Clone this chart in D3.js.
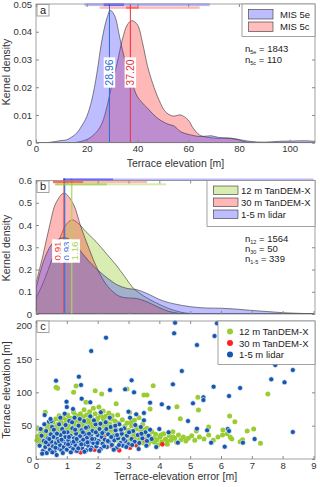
<!DOCTYPE html>
<html>
<head>
<meta charset="utf-8">
<script src="https://d3js.org/d3.v7.min.js"></script>
<style>
body { margin: 0; background: #fff; }
svg { display: block; font-family: 'Liberation Sans', Arial, sans-serif; }
.axis path, .axis line { stroke: #8a8a8a; }
.axis text { fill: #333; font-size: 9.5px; }
.lab { fill: #333; font-size: 10.5px; }
</style>
</head>
<body>
<svg id="fig"></svg>
<script>

// ---- panel a: kernel density of terrace elevation ----
var mis5e = [[0,0],[5,0.0001],[10,0.0008],[12,0.001],[14,0.002],[16,0.0034],[18,0.006],[20,0.0094],[22,0.0154],[24,0.025],
  [26,0.037],[28,0.045],[29.3,0.0477],[31,0.0458],[33,0.038],[35,0.030],[38,0.0214],[40,0.0166],[44,0.0124],[48,0.0088],
  [52,0.0067],[54.5,0.006],[57,0.004],[61,0.0028],[65,0.0022],[69,0.0025],[72,0.0019],[77,0.0016],[81,0.001],[85,0.0004],
  [90,0.0002],[96,0.0005],[101,0.0006],[106,0.0007],[110,0.0005]];
var mis5c = [[0,0],[14,0],[17,0.0003],[19,0.0008],[21,0.0016],[24,0.004],[26,0.007],[28,0.013],[30,0.0214],[32,0.0287],
  [34,0.037],[36,0.0425],[37.8,0.044],[40,0.0425],[42,0.036],[44,0.0275],[46,0.0214],[48.5,0.0154],[51,0.0112],[54,0.0096],
  [57,0.0100],[60,0.0082],[62,0.0052],[64.5,0.0028],[68,0.0019],[72,0.0016],[76,0.0016],[80,0.001],[82,0.0004],[86,0.0001],
  [90,0],[110,0]];
var misMedians = [28.96, 37.20];
// [light start, dark start, dark end, light end]
var misRanges = [[19.1, 26.7, 34.7, 68.5], [25.1, 35.5, 40.6, 64.5]];
var misNames = ['MIS 5e', 'MIS 5c'];
var misN = [['5e', 1843], ['5c', 110]];

// ---- panel b: kernel density of elevation error ----
var tdx12 = [[0,0.07],[0.2,0.13],[0.4,0.2],[0.6,0.28],[0.8,0.35],[0.97,0.40],[1.16,0.423],[1.35,0.41],[1.62,0.37],[1.95,0.325],
  [2.27,0.273],[2.6,0.22],[2.92,0.16],[3.15,0.117],[3.5,0.08],[3.9,0.05],[4.3,0.025],[4.7,0.008],[5.0,0.002],[5.3,0],[9,0]];
var tdx30 = [[0,0.14],[0.22,0.26],[0.43,0.39],[0.65,0.5],[0.91,0.543],[1.19,0.5],[1.46,0.39],[1.73,0.29],[2.0,0.2],[2.33,0.123],
  [2.7,0.08],[3.0,0.072],[3.25,0.07],[3.6,0.055],[3.9,0.035],[4.3,0.012],[4.7,0.002],[5,0],[9,0]];
var lidar = [[0,0.115],[0.16,0.2],[0.32,0.265],[0.54,0.318],[0.8,0.34],[0.97,0.342],[1.19,0.325],[1.46,0.28],[1.73,0.235],
  [2.0,0.198],[2.33,0.16],[2.65,0.13],[2.95,0.115],[3.25,0.11],[3.6,0.092],[4.1,0.06],[4.5,0.045],[5.0,0.033],[5.5,0.027],
  [6.0,0.026],[6.5,0.022],[7.0,0.016],[7.5,0.011],[8.0,0.006],[8.5,0.003],[9,0.001]];
var errMedians = [1.16, 0.91, 0.93];
var errRanges = [[0.62, 0.62, 2.3, 4.22], [0.55, 0.55, 1.53, 3.6], [0.88, 0.88, 2.5, 9.0]];
var errNames = ['12 m TanDEM-X', '30 m TanDEM-X', '1-5 m lidar'];
var errN = [['12', 1564], ['30', 50], ['1-5', 339]];

// ---- panel c: elevation vs error scatter ----
var pts12 = [[0.03,28],[0.06,34],[0.1,22],[0.12,31],[0.15,38],[0.18,26],[0.2,44],[0.24,33],[0.27,24],[0.3,40],[0.33,29],[0.36,47],
  [0.38,35],[0.41,21],[0.44,52],[0.46,38],[0.48,28],[0.5,44],[0.53,33],[0.55,55],[0.58,41],[0.6,26],[0.62,48],[0.64,60],[0.66,36],
  [0.69,30],[0.71,52],[0.73,44],[0.75,65],[0.77,38],[0.8,57],[0.82,28],[0.84,47],[0.86,36],[0.88,62],[0.9,42],[0.92,53],[0.95,31],
  [0.97,46],[0.99,58],[1.01,39],[1.03,66],[1.05,50],[1.07,27],[1.09,44],[1.11,56],[1.13,35],[1.15,61],[1.18,47],[1.2,40],[1.22,70],
  [1.24,52],[1.26,30],[1.28,58],[1.3,45],[1.32,37],[1.34,64],[1.36,50],[1.38,42],[1.4,55],[1.42,33],[1.44,68],[1.46,47],[1.48,39],
  [1.5,60],[1.52,52],[1.54,43],[1.56,74],[1.58,36],[1.6,56],[1.62,48],[1.64,66],[1.66,41],[1.68,29],[1.7,59],[1.72,50],[1.74,71],
  [1.76,44],[1.78,34],[1.8,62],[1.82,53],[1.84,46],[1.86,76],[1.88,39],[1.9,57],[1.92,68],[1.94,30],[1.96,49],[1.98,42],[2.0,61],
  [2.02,54],[2.04,78],[2.06,37],[2.08,47],[2.1,66],[2.12,27],[2.14,52],[2.16,43],[2.18,72],[2.2,58],[2.22,34],[2.24,49],[2.26,64],
  [2.28,40],[2.3,55],[2.32,25],[2.34,46],[2.36,69],[2.38,37],[2.4,52],[2.42,30],[2.44,60],[2.46,43],[2.48,22],[2.5,48],[2.53,36],
  [2.56,57],[2.59,28],[2.62,44],[2.65,66],[2.68,33],[2.71,52],[2.74,24],[2.77,41],[2.8,59],[2.83,30],[2.86,46],[2.89,21],[2.92,37],
  [2.95,54],[2.98,27],[3.01,43],[3.04,70],[3.07,32],[3.1,50],[3.13,25],[3.16,39],[3.19,58],[3.22,29],[3.25,45],[3.28,20],[3.31,36],
  [3.34,62],[3.37,27],[3.4,42],[3.43,33],[3.46,52],[3.49,24],[3.52,38],[3.56,30],[3.6,46],[3.64,22],[3.68,35],[3.72,27],[3.76,41],
  [3.8,31],[3.84,25],[3.88,37],[3.92,29],[3.96,21],[4.02,33],[4.08,26],[4.14,38],[4.2,30],[4.26,22],[4.32,35],[4.38,28],[4.44,41],
  [4.5,31],[4.56,25],[4.62,36],[4.7,29],[4.78,33],[4.86,27],[4.94,31],[5.05,35],[5.15,28],[5.3,33],[5.45,30],[5.6,36],[5.75,28],
  [5.9,33],[6.05,36],[6.2,38],[6.35,30],[0.65,107.5],[0.7,106],[1.3,109.5],[1.22,100],[1.92,102.5],[2.13,97.5],[2.95,105],[3.6,96],
  [3.8,110],[3.5,96],[4.57,78.5],[4.68,60.5],[5.25,92.5],[5.27,73.5],[6.28,64.5],[6.45,56],[6.06,43.5],[6.85,42],[7.06,45],
  [7.52,97.5],[7.28,23.5],[6.62,26],[6.7,29],[6.3,32.5],[5.6,48],[5.2,42],[3.7,75],[2.6,83],[1.62,85],[0.3,70],
  [0.08,45],[0.22,36],[0.4,27],[0.57,38],[0.79,45],[0.94,36],[1.06,60],[1.16,42],[1.27,66],[1.41,48],[1.53,63],[1.63,38],
  [1.73,54],[1.83,40],[1.97,56],[2.07,44],[2.17,62],[2.27,50],[2.37,42],[2.47,65],[2.57,40],[2.67,54],[2.78,34],[2.88,49],
  [2.97,40],[3.08,55],[3.18,35],[3.28,48],[3.38,31],[3.53,44],[3.66,32],[3.86,29],[4.05,36],[4.25,27],[4.45,33]];
var pts30 = [[0.25,13],[0.45,16],[0.6,11],[0.85,13],[1.0,20],[1.25,17],[1.45,10],[1.55,36],[1.7,24],[1.9,14],[2.2,32],[2.45,19],
  [2.7,13],[2.9,26],[3.05,17],[3.25,21],[3.55,28],[4.1,22],[0.75,22],[1.3,12]];
var ptsLidar = [[0.12,20],[0.18,35],[0.22,12],[0.25,27],[0.28,66],[0.3,18],[0.33,42],[0.35,9],[0.38,31],[0.4,22],[0.42,56],[0.45,14],
  [0.48,37],[0.5,26],[0.52,48],[0.55,19],[0.57,33],[0.6,11],[0.62,41],[0.65,24],[0.67,6],[0.7,30],[0.72,16],[0.75,52],[0.78,21],
  [0.8,36],[0.82,13],[0.85,45],[0.88,27],[0.9,18],[0.93,68],[0.95,33],[0.97,23],[1.0,14],[1.02,40],[1.05,28],[1.08,57],[1.1,19],
  [1.12,35],[1.15,24],[1.18,46],[1.2,15],[1.23,31],[1.25,62],[1.28,21],[1.3,38],[1.33,12],[1.35,27],[1.38,50],[1.4,18],[1.43,34],
  [1.45,25],[1.48,43],[1.5,16],[1.53,29],[1.56,57],[1.58,22],[1.6,37],[1.63,13],[1.66,32],[1.68,48],[1.7,20],[1.73,26],[1.76,64],
  [1.78,35],[1.8,17],[1.83,42],[1.86,24],[1.9,30],[1.93,52],[1.96,19],[2.0,36],[2.03,27],[2.06,45],[2.1,15],[2.13,33],[2.16,23],
  [2.2,41],[2.23,29],[2.26,55],[2.3,18],[2.34,37],[2.38,25],[2.42,48],[2.46,21],[2.5,34],[2.54,28],[2.58,43],[2.62,17],[2.66,31],
  [2.7,52],[2.74,24],[2.78,38],[2.82,20],[2.86,46],[2.9,27],[2.95,35],[3.0,22],[3.05,62],[3.1,30],[3.15,42],[3.2,26],[3.25,67],
  [3.3,36],[3.35,24],[3.4,48],[3.45,31],[3.5,58],[3.55,40],[3.6,27],[3.65,35],[3.7,44],[4.0,45],[4.3,40],
  [4.51,204.5],[5.87,203.5],[4.48,188.5],[2.27,182],[5.79,184.5],[5.22,171],[1.79,162],[4.73,132],[8.33,133.5],[7.76,141],
  [7.63,119.5],[8.06,115],[1.39,123.5],[0.65,117.5],[1.46,111],[3.1,118],[4.44,112],[2.89,104.5],[3.18,100],[2.4,103.5],
  [5.76,108.5],[6.62,106.5],[1.48,90.5],[0.99,86],[1.76,85],[4.08,82],[5.09,83.5],[5.43,92.5],[5.43,88.5],[6.26,94.5],[4.3,77],
  [3.7,84.5],[4.93,57],[5.22,45.5],[5.55,43],[6.22,45],[6.26,42],[8.33,40.5],[7.09,30],[6.12,18.5],[6.71,24.5],[4.6,24.5],
  [5.68,24.5],[1.0,78],[0.5,57],[2.1,70],[1.2,75],[3.0,71],[3.5,69],
  [0.15,45],[0.2,8],[0.27,52],[0.32,25],[0.43,30],[0.47,60],[0.53,10],[0.58,44],[0.63,17],[0.68,38],[0.74,27],[0.79,62],
  [0.83,29],[0.87,9],[0.91,40],[0.96,51],[1.04,22],[1.07,33],[1.13,10],[1.17,55],[1.22,26],[1.27,44],[1.32,30],[1.37,16],
  [1.42,60],[1.47,22],[1.52,40],[1.57,11],[1.62,47],[1.67,25],[1.72,38],[1.77,14],[1.82,30],[1.88,58],[1.94,40],[1.99,24],
  [2.05,12],[2.09,53],[2.15,39],[2.21,19],[2.28,45],[2.33,27],[2.39,62],[2.44,33],[2.52,14],[2.57,50],[2.63,36],[2.69,21],
  [2.76,44],[2.84,30],[2.93,18],[3.02,40],[3.12,21],[3.22,51],[3.33,15],[3.42,38],[3.58,20],[3.75,30],[3.9,18]];

var col12 = '#9acd32', col30 = '#ff2020', colLidar = '#1456b0';
var fill5e = '#3333ff', fill5c = '#ff3333';

var svg = d3.select('#fig').attr('width', 320).attr('height', 487);

// scales
var xA = d3.scaleLinear().domain([0, 110]).range([36, 315]);
var yA = d3.scaleLinear().domain([0, 0.05]).range([142.7, 4]);
var xE = d3.scaleLinear().domain([0, 9]).range([36, 313.5]);
var yB = d3.scaleLinear().domain([0, 0.6]).range([314, 180.5]);
var yC = d3.scaleLinear().domain([0, 207]).range([459, 321]);

function axes(g, x, y, xt, yt, yfmt, xlab) {
  var x0 = 36, x1 = 315, yb = y.range()[0], yt0 = y.range()[1];
  g.append('g').attr('class', 'axis').attr('transform', 'translate(0,' + yb + ')')
    .call(d3.axisBottom(x).tickValues(xt).tickSizeInner(-3).tickSizeOuter(0).tickPadding(3)
      .tickFormat(xlab ? d3.format('d') : ''));
  g.append('g').attr('class', 'axis').attr('transform', 'translate(0,' + yt0 + ')')
    .call(d3.axisTop(x).tickValues(xt).tickSizeInner(-3).tickSizeOuter(0).tickFormat(''));
  g.append('g').attr('class', 'axis').attr('transform', 'translate(' + x0 + ',0)')
    .call(d3.axisLeft(y).tickValues(yt).tickSizeInner(-3).tickSizeOuter(0).tickPadding(4).tickFormat(yfmt));
  g.append('g').attr('class', 'axis').attr('transform', 'translate(' + x1 + ',0)')
    .call(d3.axisRight(y).tickValues(yt).tickSizeInner(-3).tickSizeOuter(0).tickFormat(''));
  g.selectAll('.axis .domain').remove();
  g.append('rect').attr('x', x0).attr('y', yt0).attr('width', x1 - x0).attr('height', yb - yt0)
    .attr('fill', 'none').attr('stroke', '#8a8a8a').attr('stroke-width', 0.8);
}

function panelTag(g, letter, y) {
  g.append('rect').attr('x', 37).attr('y', y).attr('width', 12).attr('height', 11.5)
    .attr('fill', '#fff').attr('stroke', '#8a8a8a').attr('stroke-width', 0.8);
  g.append('text').attr('x', 43).attr('y', y + 9).attr('text-anchor', 'middle')
    .attr('font-size', 11).attr('fill', '#222').text(letter);
}

function nText(g, x, y, sub, val) {
  var t = g.append('text').attr('x', x).attr('y', y).attr('font-size', 9.5).attr('fill', '#222');
  t.append('tspan').text('n');
  t.append('tspan').attr('font-size', 5.5).attr('dy', 2).text(sub);
  t.append('tspan').attr('dy', -2).text(' = ' + val);
}

function rangeBar(g, x, r, y, h, col, op) {
  g.append('rect').attr('x', x(r[0])).attr('y', y).attr('width', x(r[3]) - x(r[0])).attr('height', h)
    .attr('fill', col).attr('fill-opacity', op);
  g.append('rect').attr('x', x(r[1])).attr('y', y).attr('width', x(r[2]) - x(r[1])).attr('height', h)
    .attr('fill', col).attr('fill-opacity', op + 0.25);
}

function vLabel(g, x, y, txt, col, fs) {
  var w = txt.length * fs * 0.52 + 3, h = fs + 1;
  g.append('rect').attr('x', x - h / 2).attr('y', y - w / 2).attr('width', h).attr('height', w).attr('fill', '#fff');
  g.append('text').attr('transform', 'translate(' + x + ',' + y + ') rotate(-90)')
    .attr('text-anchor', 'middle').attr('dominant-baseline', 'central')
    .attr('font-size', fs).attr('fill', col).text(txt);
}

// ================= panel a =================
var ga = svg.append('g');
svg.append('clipPath').attr('id', 'clipA').append('rect').attr('x', 36).attr('y', 4).attr('width', 279).attr('height', 139);
var areaA = d3.area().x(function(d) { return xA(d[0]); }).y0(yA(0)).y1(function(d) { return yA(d[1]); })
  .curve(d3.curveCatmullRom);
var pa = ga.append('g').attr('clip-path', 'url(#clipA)');
pa.append('path').datum(mis5c).attr('d', areaA).attr('fill', fill5c).attr('fill-opacity', 0.35)
  .attr('stroke', '#333').attr('stroke-width', 0.6);
pa.append('path').datum(mis5e).attr('d', areaA).attr('fill', fill5e).attr('fill-opacity', 0.32)
  .attr('stroke', '#333').attr('stroke-width', 0.6);
var medColA = ['#2a6cd4', '#e8303a'];
misMedians.forEach(function(m, i) {
  ga.append('line').attr('x1', xA(m)).attr('x2', xA(m)).attr('y1', yA(0)).attr('y2', 4)
    .attr('stroke', medColA[i]).attr('stroke-width', 1);
});
rangeBar(ga, xA, misRanges[0], 3.3, 2.8, fill5e, 0.35);
rangeBar(ga, xA, misRanges[1], 6.5, 2.3, fill5c, 0.35);
misMedians.forEach(function(m, i) { vLabel(ga, xA(m), 72.5, m.toFixed(2), medColA[i], 10.5); });
axes(ga, xA, yA, [0, 20, 40, 60, 80, 100], d3.range(0, 0.051, 0.01),
  function(d) { return d === 0 ? '0' : d3.format('.2f')(d); }, true);
panelTag(ga, 'a', 4.5);
ga.append('text').attr('class', 'lab').attr('x', 175.5).attr('y', 166.5).attr('text-anchor', 'middle')
  .text('Terrace elevation [m]');
ga.append('text').attr('class', 'lab').attr('transform', 'translate(10,72) rotate(-90)')
  .attr('text-anchor', 'middle').text('Kernel density');
// legend a
var la = ga.append('g');
la.append('rect').attr('x', 242).attr('y', 4).attr('width', 73).attr('height', 32.5)
  .attr('fill', '#fff').attr('stroke', '#8a8a8a').attr('stroke-width', 0.8);
[fill5e, fill5c].forEach(function(c, i) {
  la.append('rect').attr('x', 248.5).attr('y', 9.5 + i * 12.5).attr('width', 24.5).attr('height', 9.5)
    .attr('fill', c).attr('fill-opacity', 0.32).attr('stroke', '#333').attr('stroke-width', 0.6);
  la.append('text').attr('x', 280).attr('y', 17.8 + i * 12.5).attr('font-size', 9.5).attr('fill', '#222').text(misNames[i]);
});
misN.forEach(function(n, i) { nText(ga, 245, 51.5 + i * 11, n[0], n[1]); });

// ================= panel b =================
var gb = svg.append('g');
svg.append('clipPath').attr('id', 'clipB').append('rect').attr('x', 36).attr('y', 180.5).attr('width', 279).attr('height', 133.5);
var areaB = d3.area().x(function(d) { return xE(d[0]); }).y0(yB(0)).y1(function(d) { return yB(d[1]); })
  .curve(d3.curveCatmullRom);
var pb = gb.append('g').attr('clip-path', 'url(#clipB)');
[[tdx12, col12, 0.38], [tdx30, fill5c, 0.35], [lidar, fill5e, 0.32]].forEach(function(s) {
  pb.append('path').datum(s[0]).attr('d', areaB).attr('fill', s[1]).attr('fill-opacity', s[2])
    .attr('stroke', '#333').attr('stroke-width', 0.6);
});
var medColB = ['#a8d850', '#ff2a2a', '#3a78d8'];
errMedians.forEach(function(m, i) {
  gb.append('line').attr('x1', xE(m)).attr('x2', xE(m)).attr('y1', yB(0)).attr('y2', 178.5)
    .attr('stroke', medColB[i]).attr('stroke-width', 1.2);
});
rangeBar(gb, xE, errRanges[2], 178.5, 2.3, fill5e, 0.35);
rangeBar(gb, xE, errRanges[1], 180.8, 2.3, fill5c, 0.35);
rangeBar(gb, xE, errRanges[0], 183.3, 2, col12, 0.4);
// median labels side by side: 30 m, lidar, 12 m
vLabel(gb, 57.5, 251, errMedians[1].toFixed(2), medColB[1], 9.8);
vLabel(gb, 66, 251, errMedians[2].toFixed(2), medColB[2], 9.8);
vLabel(gb, 74.5, 251, errMedians[0].toFixed(2), medColB[0], 9.8);
axes(gb, xE, yB, d3.range(0, 10), d3.range(0, 0.61, 0.1),
  function(d) { return d === 0 ? '0' : d3.format('.1f')(d); }, false);
panelTag(gb, 'b', 181);
gb.append('text').attr('class', 'lab').attr('transform', 'translate(10,248) rotate(-90)')
  .attr('text-anchor', 'middle').text('Kernel density');
var lb = gb.append('g');
lb.append('rect').attr('x', 207).attr('y', 180.5).attr('width', 108).attr('height', 46)
  .attr('fill', '#fff').attr('stroke', '#8a8a8a').attr('stroke-width', 0.8);
[[col12, 0.38], [fill5c, 0.35], [fill5e, 0.32]].forEach(function(c, i) {
  lb.append('rect').attr('x', 213.5).attr('y', 186 + i * 12).attr('width', 24.5).attr('height', 8.5)
    .attr('fill', c[0]).attr('fill-opacity', c[1]).attr('stroke', '#333').attr('stroke-width', 0.6);
  lb.append('text').attr('x', 241).attr('y', 193.8 + i * 12).attr('font-size', 9.5).attr('fill', '#222').text(errNames[i]);
});
errN.forEach(function(n, i) { nText(gb, 245, 241.5 + i * 10, n[0], n[1]); });

// ================= panel c =================
var gc = svg.append('g');
var sets = [[pts12, col12, 2.5, 'none'], [pts30, col30, 2.3, 'none'], [ptsLidar, colLidar, 2.5, '#fff']];
sets.forEach(function(s) {
  gc.append('g').selectAll('circle').data(s[0]).enter().append('circle')
    .attr('cx', function(d) { return xE(d[0]); })
    .attr('cy', function(d) { return yC(d[1]); })
    .attr('r', s[2]).attr('fill', s[1])
    .attr('stroke', s[3]).attr('stroke-width', 0.6);
});
axes(gc, xE, yC, d3.range(0, 10), [0, 50, 100, 150, 200], d3.format('d'), true);
panelTag(gc, 'c', 321);
gc.append('text').attr('class', 'lab').attr('x', 175.5).attr('y', 480).attr('text-anchor', 'middle')
  .text('Terrace-elevation error [m]');
gc.append('text').attr('class', 'lab').attr('transform', 'translate(10,390) rotate(-90)')
  .attr('text-anchor', 'middle').text('Terrace elevation [m]');
var lc = gc.append('g');
lc.append('rect').attr('x', 218).attr('y', 321).attr('width', 97).attr('height', 43.5)
  .attr('fill', '#fff').attr('stroke', '#8a8a8a').attr('stroke-width', 0.8);
[col12, col30, colLidar].forEach(function(c, i) {
  lc.append('circle').attr('cx', 230).attr('cy', 331.5 + i * 11.5).attr('r', 3).attr('fill', c);
  lc.append('text').attr('x', 239).attr('y', 335 + i * 11.5).attr('font-size', 9.5).attr('fill', '#222').text(errNames[i]);
});

</script>
</body>
</html>
